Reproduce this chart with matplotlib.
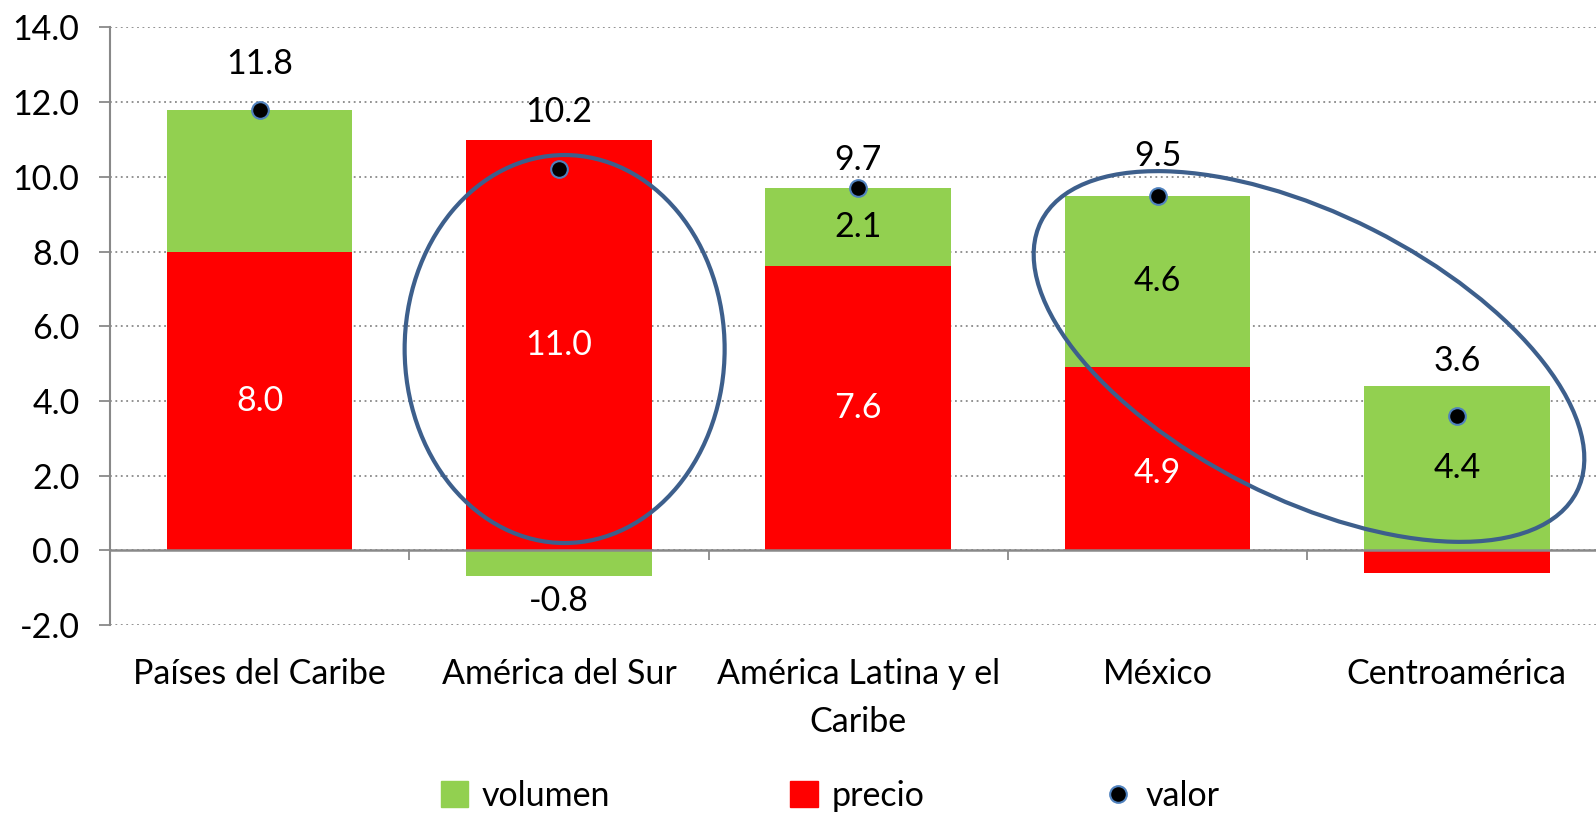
import numpy as np
import matplotlib.pyplot as plt
from matplotlib.patches import Ellipse
from matplotlib.lines import Line2D
from matplotlib.patches import Patch
import matplotlib.transforms as mtransforms

plt.rcParams['font.family'] = ['Lato', 'DejaVu Sans']

categories = ['Países del Caribe', 'América del Sur', 'América Latina y el\nCaribe', 'México', 'Centroamérica']
precio = [8.0, 11.0, 7.6, 4.9, -0.6]
volumen = [3.8, -0.7, 2.1, 4.6, 4.4]
valor = [11.8, 10.2, 9.7, 9.5, 3.6]

# which segments get a label (Excel hid some)
precio_lbl = ['8.0', '11.0', '7.6', '4.9', None]
volumen_lbl = [None, '-0.8', '2.1', '4.6', '4.4']
valor_lbl = ['11.8', '10.2', '9.7', '9.5', '3.6']
valor_off = [46, 57, 28, 40, 55]   # px above dot, placed by hand in the original
precio_dy = [0, 0, 0, -14, 0]

green = '#92D050'
red = '#FF0000'
grey = '#898989'

W, H = 1596, 813
fig = plt.figure(figsize=(W / 100, H / 100), dpi=100)
ax = fig.add_axes([110 / W, (H - 625) / H, 1496.5 / W, 597.5 / H])

x = np.arange(len(categories))
bw = 0.62
pos_base = np.zeros(len(x))
neg_base = np.zeros(len(x))

def stack(vals):
    bottoms = []
    for i, v in enumerate(vals):
        if v >= 0:
            bottoms.append(pos_base[i]); pos_base[i] += v
        else:
            bottoms.append(neg_base[i]); neg_base[i] += v
    return bottoms

b_p = stack(precio)
ax.bar(x, precio, bw, bottom=b_p, color=red, zorder=2)
b_v = stack(volumen)
ax.bar(x, volumen, bw, bottom=b_v, color=green, zorder=2)

ax.plot(x, valor, 'o', ms=12, mfc='black', mec='#4F81BD', mew=1.5, zorder=5, linestyle='none')

fs = 24.5
for i in x:
    if precio_lbl[i]:
        ax.annotate(precio_lbl[i], (i, b_p[i] + precio[i] / 2), xytext=(0, precio_dy[i]), textcoords='offset pixels',
                    ha='center', va='center', color='white', fontsize=fs, zorder=4)
    if volumen_lbl[i]:
        if volumen[i] >= 0:
            ax.text(i, b_v[i] + volumen[i] / 2, volumen_lbl[i], ha='center', va='center', color='black', fontsize=fs, zorder=4)
        else:
            ax.annotate(volumen_lbl[i], (i, b_v[i] + volumen[i]), xytext=(0, -25), textcoords='offset pixels',
                        ha='center', va='center', fontsize=fs, zorder=4)
    ax.annotate(valor_lbl[i], (i, valor[i]), xytext=(0, valor_off[i]), textcoords='offset pixels',
                ha='center', va='center', fontsize=fs, zorder=4)

ax.set_xlim(-0.5, len(x) - 0.5)
ax.set_ylim(-2, 14)
ax.set_yticks(np.arange(-2, 15, 2))
ax.set_yticklabels(['%.1f' % v for v in np.arange(-2, 15, 2)], fontsize=fs)
ax.yaxis.grid(True, linestyle=(0, (1, 2)), color=grey, linewidth=1.3, zorder=0)
ax.set_axisbelow(True)
ax.tick_params(axis='y', length=8, width=1.3, color=grey, pad=14)

ax.set_xticks(x)
ax.set_xticklabels(categories, fontsize=fs, linespacing=1.6, va='top')
ax.tick_params(axis='x', length=0, pad=24)

for s in ['top', 'right', 'bottom']:
    ax.spines[s].set_visible(False)
ax.spines['left'].set_color(grey)
ax.spines['left'].set_linewidth(1.5)
ax.axhline(0, color=grey, linewidth=1.8, zorder=3)
ax.vlines(np.arange(0.5, len(x) - 0.5), -0.25, 0, color=grey, linewidth=1.3, zorder=3)

# hand-drawn ellipses (pixels)
def px(xd, yd):
    return ax.transData.transform((xd, yd))

e_col = '#3D5F8C'
c1 = px(1.019, 5.39)
ax.add_patch(Ellipse((0, 0), 320, 388, angle=0, fill=False, ec=e_col, lw=3,
                     transform=mtransforms.Affine2D().translate(*c1), zorder=6, clip_on=False))
c2 = px(3.506, 5.19)
ax.add_patch(Ellipse((0, 0), 600, 284, angle=-26.8, fill=False, ec=e_col, lw=3,
                     transform=mtransforms.Affine2D().translate(*c2), zorder=6, clip_on=False))

handles = [Patch(color=green), Patch(color=red),
           Line2D([], [], marker='o', ms=12, mfc='black', mec='#4F81BD', mew=1.5, linestyle='none')]
fig.legend(handles, ['volumen', 'precio', 'valor'], loc='center', bbox_to_anchor=(830 / W, 1 - 796 / H),
           ncol=3, frameon=False, fontsize=fs, columnspacing=5.3, handlelength=0.8, handleheight=0.8,
           handletextpad=0.4)

fig.savefig('out.png', dpi=100)
